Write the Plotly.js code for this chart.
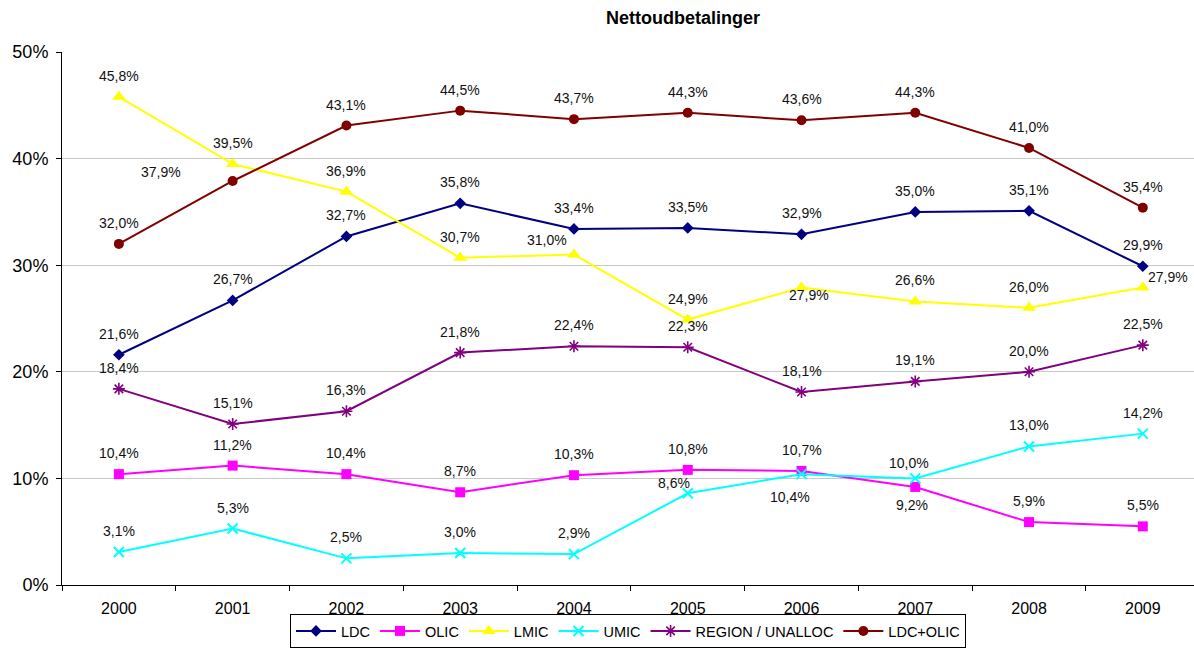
<!DOCTYPE html>
<html>
<head>
<meta charset="utf-8">
<script src="https://cdn.plot.ly/plotly-3.0.1.min.js"></script>
<style>
  html, body { margin: 0; padding: 0; background: #fff; }
  #chart { width: 1194px; height: 648px; }
  #err { position: absolute; left: 80px; top: 60px; color: red; font: 12px monospace; }
</style>
</head>
<body>
<div id="chart"></div>
<div id="err"></div>
<script>
window.onerror = function (m) { document.getElementById('err').textContent += ' ERR: ' + m; };
// ---- data ----
const years = ['2000', '2001', '2002', '2003', '2004', '2005', '2006', '2007', '2008', '2009'];
const seriesNames = ['LDC', 'OLIC', 'LMIC', 'UMIC', 'REGION / UNALLOC', 'LDC+OLIC'];
const ldc     = [21.6, 26.7, 32.7, 35.8, 33.4, 33.5, 32.9, 35.0, 35.1, 29.9];
const olic    = [10.4, 11.2, 10.4, 8.7, 10.3, 10.8, 10.7, 9.2, 5.9, 5.5];
const lmic    = [45.8, 39.5, 36.9, 30.7, 31.0, 24.9, 27.9, 26.6, 26.0, 27.9];
const umic    = [3.1, 5.3, 2.5, 3.0, 2.9, 8.6, 10.4, 10.0, 13.0, 14.2];
const region  = [18.4, 15.1, 16.3, 21.8, 22.4, 22.3, 18.1, 19.1, 20.0, 22.5];
const ldcOlic = [32.0, 37.9, 43.1, 44.5, 43.7, 44.3, 43.6, 44.3, 41.0, 35.4];
const yTicks  = [0, 10, 20, 30, 40, 50];
const yTickLabels = ['0%', '10%', '20%', '30%', '40%', '50%'];
const chartTitle = 'Nettoudbetalinger';

// ---- styles ----
const styles = [
  {color: '#000080', symbol: 'diamond', size: 9, lw: 0},
  {color: '#FF00FF', symbol: 'square', size: 10, lw: 0},
  {color: '#FFFF00', symbol: 'triangle-up', size: 12, lw: 0},
  {color: '#00FFFF', symbol: 'x-thin', size: 10, lw: 2},
  {color: '#800080', symbol: 'asterisk', size: 10, lw: 1.6},
  {color: '#800000', symbol: 'circle', size: 10, lw: 0}
];
const allValues = [ldc, olic, lmic, umic, region, ldcOlic];

// label offsets (pixels) for labels moved from default "above" position
const labelShift = {
  '5-1': [-72, 9],
  '2-4': [-27, 15],
  '2-6': [7, -7],
  '2-9': [25, 11],
  '3-5': [-14, 10],
  '3-6': [-12, -23],
  '3-7': [-6, 15],
  '1-7': [-3, -18]
};

const traces = allValues.map(function (vals, s) {
  const st = styles[s];
  const marker = {symbol: st.symbol, size: st.size, color: st.color};
  marker.line = st.lw ? {color: st.color, width: st.lw} : {width: 0};
  return {
    type: 'scatter', mode: 'lines+markers', name: seriesNames[s],
    x: years, y: vals,
    line: {color: st.color, width: 2},
    marker: marker
  };
});

function fmt(v) { return v.toFixed(1).replace('.', ',') + '%'; }
const annotations = [];
allValues.forEach(function (vals, s) {
  vals.forEach(function (v, i) {
    const sh = labelShift[s + '-' + i] || [0, 21];
    annotations.push({
      x: i, y: v, xref: 'x', yref: 'y',
      text: fmt(v), showarrow: false,
      xshift: sh[0], yshift: sh[1],
      xanchor: 'center', yanchor: 'middle',
      font: {family: 'Liberation Sans', size: 14, color: '#111111'}
    });
  });
});

const layout = {
  width: 1194, height: 648,
  paper_bgcolor: '#fff', plot_bgcolor: '#fff',
  margin: {l: 62, r: 0, t: 52, b: 63, pad: 0},
  font: {family: 'Liberation Sans', color: '#000'},
  title: {
    text: '<b>' + chartTitle + '</b>',
    font: {family: 'Liberation Sans', size: 18, color: '#000'},
    x: 683 / 1194, xref: 'container', xanchor: 'center',
    y: 1 - 18 / 648, yref: 'container', yanchor: 'middle'
  },
  xaxis: {
    type: 'category', range: [-0.5, 9.45],
    showline: true, linecolor: '#000', linewidth: 1,
    ticks: 'outside', ticklen: 5, tickcolor: '#000', tickson: 'boundaries',
    showgrid: false, zeroline: false,
    tickfont: {size: 16, color: '#000'},
    ticklabelstandoff: 9
  },
  yaxis: {
    range: [0, 50], tickmode: 'array', tickvals: yTicks, ticktext: yTickLabels,
    showline: true, linecolor: '#000', linewidth: 1,
    ticks: 'outside', ticklen: 5, tickcolor: '#000',
    showgrid: true, gridcolor: '#c8c8c8', gridwidth: 1, zeroline: false,
    tickfont: {size: 18, color: '#000'},
    ticklabelstandoff: 4
  },
  showlegend: true,
  legend: {
    orientation: 'h', x: 0.5, xanchor: 'center',
    yref: 'container', y: 0, yanchor: 'bottom',
    bordercolor: '#000', borderwidth: 1, bgcolor: '#fff',
    font: {size: 14.5, color: '#000'},
    itemwidth: 40,
    traceorder: 'normal'
  },
  annotations: annotations
};

try {
  Plotly.newPlot('chart', traces, layout, {displayModeBar: false, staticPlot: true})
    .catch(function (e) { document.getElementById('err').textContent += ' P: ' + e; });
} catch (e) {
  document.getElementById('err').textContent += ' C: ' + e;
}
</script>
</body>
</html>
